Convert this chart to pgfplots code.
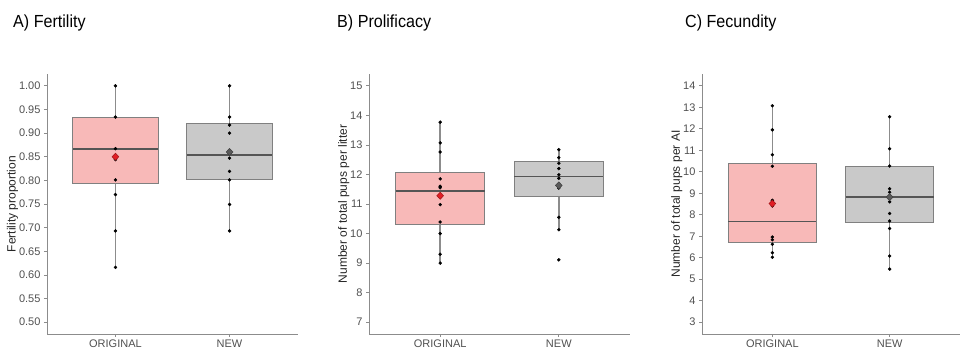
\documentclass[border=0pt]{standalone}
\usepackage{fontspec}
\setmainfont{Liberation Sans}
\newfontfamily\titlefont[FakeStretch=0.92]{Liberation Sans}
\usepackage{pgfplots}
\pgfplotsset{compat=1.18}
\usepgfplotslibrary{statistics}
\definecolor{pinkfill}{RGB}{248,185,184}
\definecolor{grayfill}{RGB}{201,201,201}
\definecolor{boxline}{RGB}{128,128,128}
\definecolor{medline}{RGB}{85,85,85}
\definecolor{tickcol}{RGB}{80,80,80}
\definecolor{axcol}{RGB}{140,140,140}
\definecolor{meanred}{RGB}{226,30,36}
\definecolor{meangray}{RGB}{90,90,90}
\pgfplotsset{
  panel/.style={
    scale only axis, width=251pt, height=260pt,
    axis lines=left, axis line style={-, draw=axcol, line width=0.9pt},
    xmin=0.4, xmax=2.6,
    xtick={1,2}, xticklabels={ORIGINAL,NEW},
    tick align=outside, major tick length=3pt,
    tick style={draw=axcol, line width=0.8pt},
    ticklabel style={font=\fontsize{11}{12}\selectfont, text=tickcol},
    /pgf/number format/assume math mode=true,
    ylabel style={font=\fontsize{12}{13}\selectfont, text=black!85},
    ylabel shift={-6pt},
    xticklabel style={yshift=1pt},
    clip=false,
    boxplot/draw direction=y,
    boxplot/box extend=0.75,
    boxplot/whisker extend=0,
  },
  boxplot/medst/.style={every median/.style={draw=medline, line width=1.7pt},
                        every whisker/.style={draw=axcol, line width=1.7pt}},
  whisk/.style={draw=axcol, line width=1.7pt, mark=none, forget plot},
  origbox/.style={draw=boxline, fill=pinkfill, line width=0.8pt, mark=none, solid},
  newbox/.style={draw=boxline, fill=grayfill, line width=0.8pt, mark=none, solid},
  pts/.style={only marks, mark=*, mark size=1.5pt, black},
  meanO/.style={only marks, mark=diamond*, mark size=3.6pt, mark options={xscale=1.25, fill=meanred, draw=meanred!70!black, line width=0.5pt}},
  meanN/.style={only marks, mark=diamond*, mark size=3.6pt, mark options={xscale=1.25, fill=meangray, draw=meangray!70!black, line width=0.5pt}},
}
\begin{document}
\begin{tikzpicture}
\useasboundingbox (0pt,0pt) rectangle (961pt,349pt);
\node[anchor=base west, inner sep=0pt, font=\titlefont\fontsize{17.5}{19}\selectfont] at (13pt,321pt) {A) Fertility};
\node[anchor=base west, inner sep=0pt, font=\titlefont\fontsize{17.5}{19}\selectfont] at (337pt,321pt) {B) Prolificacy};
\node[anchor=base west, inner sep=0pt, font=\titlefont\fontsize{17.5}{19}\selectfont] at (685pt,321pt) {C) Fecundity};

% Panel A
\begin{axis}[panel, at={(47pt,15pt)}, anchor=south west,
  ymin=0.475, ymax=1.025, ytick={0.50,0.55,...,1.001},
  yticklabel style={/pgf/number format/fixed, /pgf/number format/fixed zerofill, /pgf/number format/precision=2},
  ylabel={Fertility proportion}]
\addplot[whisk] coordinates {(1,0.616) (1,1.0)};
\addplot[whisk] coordinates {(2,0.693) (2,1.0)};
\addplot[origbox, boxplot prepared={draw position=1, median=0.867, upper quartile=0.934, lower quartile=0.793, upper whisker=1.0, lower whisker=0.616, medst}] coordinates {};
\addplot[newbox, boxplot prepared={draw position=2, median=0.853, upper quartile=0.920, lower quartile=0.801, upper whisker=1.0, lower whisker=0.693, medst}] coordinates {};
\addplot[pts] coordinates {(1,1.0) (1,0.934) (1,0.867) (1,0.844) (1,0.801) (1,0.770) (1,0.693) (1,0.616)};
\addplot[pts] coordinates {(2,1.0) (2,0.934) (2,0.917) (2,0.900) (2,0.857) (2,0.847) (2,0.819) (2,0.801) (2,0.749) (2,0.693)};
\addplot[meanO] coordinates {(1,0.850)};
\addplot[meanN] coordinates {(2,0.860)};
\end{axis}

% Panel B
\begin{axis}[panel, at={(369pt,15pt)}, anchor=south west, width=261pt,
  ymin=6.6, ymax=15.4, ytick={7,8,...,15},
  ylabel={Number of total pups per litter}]
\addplot[whisk] coordinates {(1,9.0) (1,13.77)};
\addplot[whisk] coordinates {(2,10.13) (2,12.84)};
\addplot[origbox, boxplot prepared={draw position=1, median=11.43, upper quartile=12.08, lower quartile=10.31, upper whisker=13.77, lower whisker=9.0, medst}] coordinates {};
\addplot[newbox, boxplot prepared={draw position=2, median=11.93, upper quartile=12.43, lower quartile=11.26, upper whisker=12.84, lower whisker=10.13, medst}] coordinates {};
\addplot[pts] coordinates {(1,13.77) (1,13.07) (1,12.76) (1,11.85) (1,11.60) (1,11.55) (1,11.24) (1,10.98) (1,10.39) (1,10.0) (1,9.30) (1,9.0)};
\addplot[pts] coordinates {(2,12.84) (2,12.57) (2,12.38) (2,12.20) (2,11.99) (2,11.87) (2,11.60) (2,11.54) (2,10.55) (2,10.13) (2,9.11)};
\addplot[meanO] coordinates {(1,11.28)};
\addplot[meanN] coordinates {(2,11.63)};
\end{axis}

% Panel C
\begin{axis}[panel, at={(702pt,15pt)}, anchor=south west, width=258pt,
  ymin=2.45, ymax=14.55, ytick={3,4,...,14},
  ylabel={Number of total pups per AI}]
\addplot[whisk] coordinates {(1,6.02) (1,13.07)};
\addplot[whisk] coordinates {(2,5.47) (2,12.56)};
\addplot[origbox, boxplot prepared={draw position=1, median=7.68, upper quartile=10.40, lower quartile=6.73, upper whisker=13.07, lower whisker=6.02, medst}] coordinates {};
\addplot[newbox, boxplot prepared={draw position=2, median=8.81, upper quartile=10.26, lower quartile=7.65, upper whisker=12.56, lower whisker=5.47, medst}] coordinates {};
\addplot[pts] coordinates {(1,13.07) (1,11.95) (1,10.79) (1,10.26) (1,8.67) (1,8.41) (1,6.96) (1,6.84) (1,6.63) (1,6.23) (1,6.02)};
\addplot[pts] coordinates {(2,12.56) (2,11.07) (2,10.27) (2,9.21) (2,9.05) (2,8.60) (2,8.06) (2,7.71) (2,7.36) (2,6.08) (2,5.47)};
\addplot[meanO] coordinates {(1,8.52)};
\addplot[meanN] coordinates {(2,8.82)};
\end{axis}
\end{tikzpicture}
\end{document}
